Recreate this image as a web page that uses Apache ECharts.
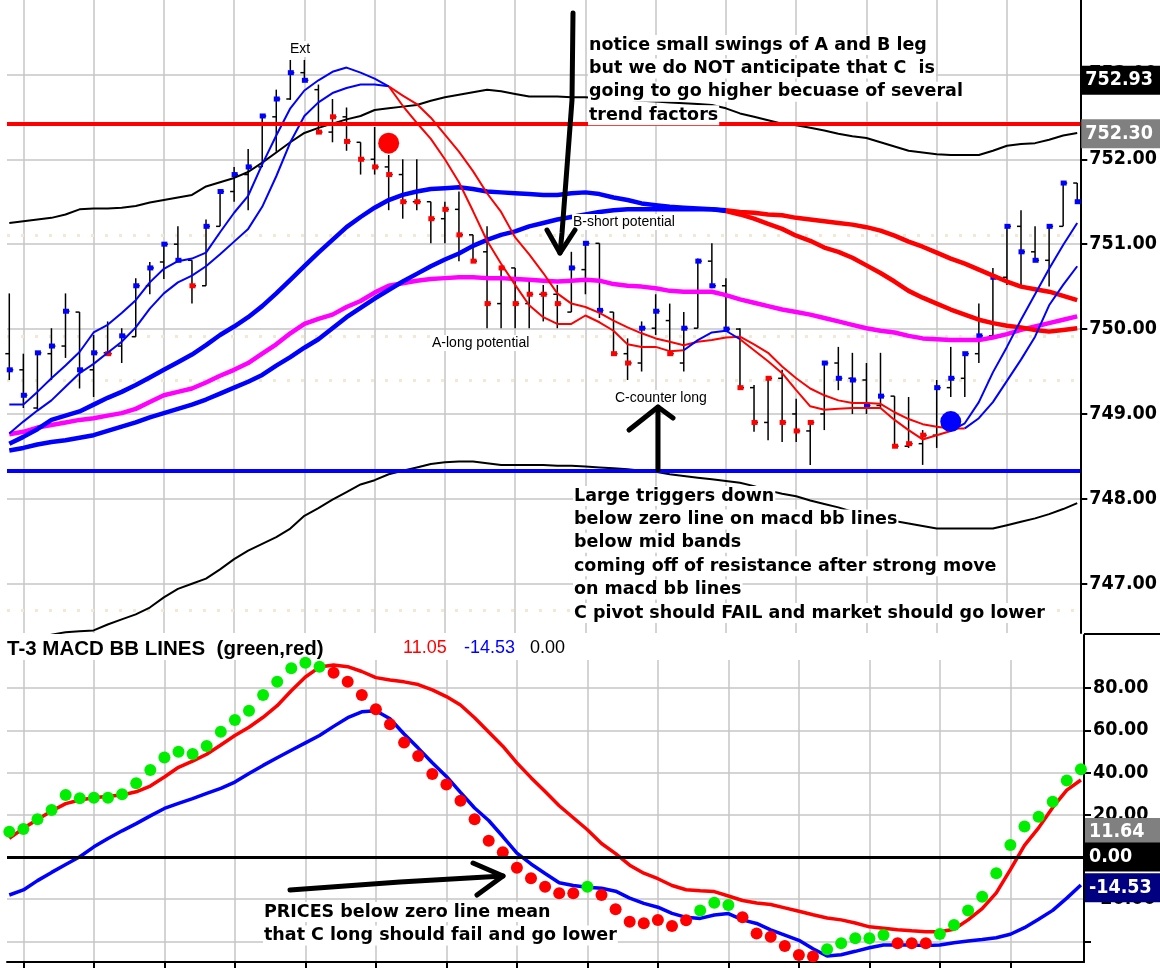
<!DOCTYPE html>
<html>
<head>
<meta charset="utf-8">
<title>T-3 MACD BB LINES</title>
<script src="https://cdn.jsdelivr.net/npm/echarts@6.0.0/dist/echarts.min.js"></script>
<style>
  html, body { margin: 0; padding: 0; background: #fff; }
  #chart { width: 1160px; height: 968px; }
</style>
</head>
<body>
<div id="chart"></div>
<script>
// ---- price bars (one per period, index = position on the x axis) ----
const barOpen = [749.71,749.52,749.07,749.71,749.80,750.20,749.52,749.72,749.80,749.91,
  750.51,750.79,751.00,750.81,750.51,751.21,751.62,751.82,751.91,752.50,
  752.71,753.02,752.82,752.32,752.50,752.20,752.00,751.91,751.82,751.50,
  751.50,751.30,751.41,751.11,750.91,750.30,750.72,750.30,750.41,750.41,
  750.20,750.70,751.01,750.20,749.71,749.60,750.01,750.10,749.60,750.01,
  750.80,750.51,750.00,749.31,748.90,749.42,749.00,748.80,749.00,749.60,
  749.42,749.40,749.10,749.21,748.62,748.65,748.75,749.31,749.42,749.71,
  749.92,750.61,751.21,750.91,750.81,751.21,751.72]
const barHigh = [750.42,749.71,749.73,750.01,750.42,750.20,749.93,750.09,750.01,750.60,
  750.79,751.01,751.21,750.81,751.29,751.62,751.91,752.12,752.51,752.82,
  753.17,753.17,752.88,752.71,752.61,752.20,752.38,752.05,752.00,752.00,
  751.50,751.50,751.62,751.11,751.21,750.75,750.72,750.56,750.52,750.52,
  750.91,751.01,751.01,750.20,749.89,750.09,750.41,750.30,750.20,750.83,
  751.01,750.60,750.01,749.34,749.42,749.52,749.18,748.91,749.62,749.79,
  749.72,749.60,749.72,749.21,749.20,748.81,749.40,749.79,749.72,750.30,
  750.72,751.23,751.40,751.21,751.21,751.72,751.72]
const barLow = [749.40,749.07,749.05,749.40,749.66,749.30,749.20,749.71,749.60,749.91,
  750.41,750.59,750.79,750.30,750.51,751.21,751.50,751.40,751.91,752.09,
  752.70,752.91,752.30,752.20,752.10,751.82,751.82,751.40,751.30,751.40,
  751.01,751.01,750.80,750.79,750.01,750.01,750.01,750.01,750.09,750.01,
  750.20,750.41,750.13,749.71,749.40,749.50,749.93,749.71,749.50,750.01,
  750.48,749.97,749.30,748.79,748.69,748.67,748.67,748.40,748.81,749.28,
  749.00,749.00,749.07,748.60,748.60,748.40,748.60,749.20,749.20,749.60,
  749.92,750.52,750.50,750.79,750.50,751.21,751.50]
const barClose = [749.52,749.22,749.72,749.80,750.21,749.52,749.72,749.71,749.92,750.51,
  750.72,751.00,750.81,750.51,751.21,751.62,751.82,751.91,752.51,752.71,
  753.02,752.93,752.32,752.50,752.21,752.00,751.91,751.82,751.50,751.50,
  751.30,751.41,751.11,750.80,750.30,750.72,750.30,750.41,750.41,750.30,
  750.72,751.01,750.22,749.71,749.60,750.01,750.21,749.71,750.01,750.80,
  750.51,750.00,749.31,748.90,749.42,748.90,748.80,748.90,749.60,749.42,
  749.40,749.10,749.21,748.62,748.65,748.75,749.31,749.42,749.71,749.92,
  750.61,751.21,750.91,750.81,751.21,751.72,751.50]
// 1 = blue close marker, 0 = red
const barTrend = [1,1,1,1,1,1,1,0,1,1, 1,1,1,0,1,1,1,1,1,1,
  1,1,0,0,0,0,0,0,0,0, 0,0,0,0,0,0,0,0,0,0,
  1,1,1,0,0,1,1,0,1,1, 1,1,0,0,0,0,0,0,1,1,
  1,1,1,0,0,0,1,1,1,1, 1,1,1,1,1,1,1]

// ---- price overlays ----
const bbUpper = [751.25,751.27,751.29,751.31,751.35,751.41,751.42,751.42,751.43,751.45,
  751.49,751.52,751.55,751.58,751.68,751.73,751.78,751.85,751.96,752.08,
  752.20,752.31,752.37,752.42,752.47,752.51,752.58,752.60,752.62,752.64,
  752.69,752.73,752.76,752.79,752.82,752.80,752.77,752.74,752.74,752.74,
  752.73,752.73,752.72,752.71,752.70,752.69,752.68,752.67,752.66,752.65,
  752.64,752.60,752.54,752.50,752.46,752.42,752.40,752.37,752.34,752.30,
  752.27,752.25,752.20,752.15,752.10,752.08,752.06,752.05,752.05,752.05,
  752.10,752.16,752.18,752.19,752.23,752.28,752.31]
const bbLower = [746.10,746.20,746.30,746.40,746.43,746.44,746.45,746.52,746.58,746.64,
  746.72,746.84,746.94,747.00,747.06,747.17,747.29,747.39,747.47,747.55,
  747.65,747.80,747.89,747.99,748.08,748.17,748.22,748.29,748.33,748.37,
  748.41,748.43,748.44,748.44,748.42,748.40,748.40,748.40,748.40,748.39,
  748.39,748.38,748.37,748.36,748.35,748.33,748.32,748.29,748.27,748.25,
  748.23,748.21,748.19,748.15,748.10,748.06,748.03,747.98,747.94,747.90,
  747.85,747.80,747.76,747.74,747.71,747.68,747.65,747.65,747.65,747.65,
  747.65,747.69,747.73,747.77,747.82,747.88,747.95]
const bbMid = [748.76,748.79,748.84,748.87,748.90,748.93,748.95,748.98,749.01,749.06,
  749.14,749.22,749.26,749.30,749.37,749.45,749.52,749.60,749.71,749.82,
  749.95,750.06,750.12,750.17,750.26,750.33,750.43,750.51,750.54,750.57,
  750.59,750.60,750.61,750.61,750.60,750.60,750.59,750.58,750.57,750.56,
  750.57,750.58,750.57,750.53,750.51,750.50,750.48,750.45,750.44,750.44,
  750.44,750.40,750.35,750.31,750.27,750.23,750.20,750.17,750.13,750.09,
  750.05,750.01,749.98,749.96,749.92,749.89,749.88,749.87,749.87,749.87,
  749.90,749.94,749.99,750.03,750.07,750.11,750.15]
const slowA = [748.65,748.73,748.82,748.93,748.98,749.03,749.11,749.19,749.26,749.34,
  749.43,749.52,749.61,749.70,749.81,749.93,750.03,750.14,750.27,750.42,
  750.58,750.74,750.90,751.05,751.20,751.32,751.43,751.52,751.58,751.62,
  751.65,751.66,751.67,751.65,751.62,751.61,751.60,751.59,751.58,751.58,
  751.60,751.61,751.59,751.55,751.52,751.48,751.46,751.44,751.43,751.42,
  751.41,751.40,751.38,751.37,751.35,751.34,751.31,751.29,751.27,751.25,
  751.23,751.20,751.16,751.10,751.03,750.97,750.90,750.83,750.77,750.70,
  750.63,750.56,750.50,750.47,750.44,750.39,750.34]
const slowB = [748.57,748.60,748.64,748.67,748.69,748.72,748.75,748.80,748.85,748.90,
  748.96,749.01,749.06,749.11,749.17,749.24,749.31,749.38,749.46,749.57,
  749.67,749.78,749.88,750.01,750.14,750.25,750.36,750.46,750.56,750.65,
  750.74,750.82,750.89,750.98,751.05,751.11,751.15,751.21,751.25,751.29,
  751.32,751.35,751.38,751.40,751.41,751.41,751.41,751.41,751.41,751.41,
  751.41,751.39,751.35,751.30,751.24,751.18,751.10,751.04,750.96,750.91,
  750.84,750.75,750.66,750.56,750.45,750.37,750.30,750.23,750.17,750.11,
  750.07,750.04,750.02,749.99,749.97,749.99,750.01]
const fastA = [749.11,749.11,749.26,749.42,749.57,749.73,749.96,750.05,750.19,750.34,
  750.55,750.71,750.80,750.83,750.90,751.14,751.37,751.57,751.94,752.28,
  752.60,752.81,752.93,753.03,753.08,753.02,752.95,752.86,752.63,752.43,
  752.24,752.00,751.73,751.39,751.04,750.77,750.52,750.28,750.14,750.06,
  750.06,750.16,750.08,749.98,749.82,749.79,749.79,749.74,749.75,749.87,
  749.96,749.98,749.88,749.75,749.62,749.48,749.28,749.09,749.05,749.06,
  749.07,749.07,749.07,748.93,748.81,748.70,748.75,748.80,748.89,749.14,
  749.49,749.79,750.11,750.41,750.71,750.99,751.25]
const fastB = [748.77,748.91,749.04,749.16,749.32,749.48,749.59,749.72,749.85,750.02,
  750.24,750.42,750.55,750.63,750.74,750.88,751.03,751.18,751.44,751.80,
  752.20,752.51,752.67,752.78,752.84,752.88,752.88,752.86,752.75,752.65,
  752.49,752.29,752.09,751.86,751.60,751.38,751.08,750.88,750.66,750.42,
  750.30,750.26,750.19,750.10,750.02,749.95,749.89,749.85,749.81,749.85,
  749.87,749.90,749.91,749.82,749.72,749.56,749.42,749.30,749.22,749.16,
  749.13,749.13,749.12,749.02,748.94,748.88,748.85,748.83,748.83,748.95,
  749.14,749.39,749.64,749.91,750.28,750.52,750.74]
// index ranges where each trend line is drawn blue (red elsewhere)
const slowABlue = [[0, 51]]
const slowBBlue = [[0, 51]]
const fastABlue = [[0, 27], [48, 52], [67, 76]]
const fastBBlue = [[0, 27], [68, 76]]

const resistance = 752.42
const support = 748.33
const sellSignal = [[27, 752.19]]
const buySignal = [[67, 748.91]]
const priceTicks = [747, 748, 749, 750, 751, 752, 753]
const faintLevels = [751.11, 749.92, 749.40, 746.69]
const priceMarks = [{ v: 752.93, bg: '#000000' }, { v: 752.30, bg: '#808080' }]

// ---- T-3 MACD BB lines ----
const macdDots = [12.0,13.3,17.9,22.3,29.4,27.8,28.1,28.1,29.7,34.9,
  41.2,47.1,49.9,48.8,52.6,59.4,64.9,69.3,76.8,83.1,
  89.4,92.1,90.2,87.3,83.1,76.8,70.0,62.9,54.2,47.9,
  39.3,34.4,26.7,17.9,7.7,2.2,-5.1,-10.1,-14.1,-17.2,
  -17.2,-14.1,-18.0,-24.8,-30.7,-31.4,-29.9,-32.7,-30.0,-25.4,
  -21.7,-22.7,-28.6,-36.2,-37.8,-42.2,-46.4,-47.2,-43.7,-40.9,
  -38.5,-38.5,-37.0,-40.9,-40.9,-40.9,-36.5,-32.2,-25.4,-18.8,
  -7.7,5.7,14.4,19.1,26.2,36.2,41.6]
// 1 = green dot, 0 = red dot
const dotState = [1,1,1,1,1,1,1,1,1,1, 1,1,1,1,1,1,1,1,1,1,
  1,1,1,0,0,0,0,0,0,0, 0,0,0,0,0,0,0,0,0,0,
  0,1,0,0,0,0,0,0,0,1, 1,1,0,0,0,0,0,0,1,1,
  1,1,1,0,0,0,1,1,1,1, 1,1,1,1,1,1,1]
const macdRed = [8.8,13.6,17.8,21.8,25.3,27.0,28.1,28.8,29.4,30.9,
  33.6,37.9,42.5,45.4,48.7,53.1,57.6,61.5,66.2,71.7,
  78.8,85.3,90.0,91.0,90.2,87.9,85.0,83.9,83.0,81.7,
  79.2,76.0,72.0,66.0,59.2,52.5,44.6,37.6,31.0,24.3,
  18.6,12.9,6.4,1.6,-3.9,-7.7,-10.3,-13.5,-15.5,-16.0,
  -16.4,-18.5,-20.6,-21.8,-22.5,-24.1,-25.7,-27.4,-28.9,-29.8,
  -31.3,-33.1,-33.8,-34.5,-35.0,-35.4,-35.4,-34.2,-29.8,-24.5,
  -17.0,-6.0,5.5,13.8,23.5,31.7,36.5]
const macdBlue = [-18.0,-15.6,-11.2,-7.3,-3.6,0.1,4.8,8.8,12.4,15.8,
  19.5,23.0,25.4,27.7,30.1,32.5,35.5,39.6,43.4,47.0,
  50.6,54.1,57.6,61.9,66.0,68.8,69.3,65.5,58.3,51.6,
  44.7,38.2,30.6,23.2,17.3,9.7,1.8,-3.3,-7.8,-12.2,
  -13.5,-14.3,-14.8,-16.2,-19.5,-22.0,-23.8,-26.7,-28.6,-29.1,
  -27.5,-26.8,-29.8,-31.5,-34.5,-37.0,-39.5,-43.5,-46.9,-46.3,
  -44.7,-43.0,-41.7,-41.7,-41.7,-42.0,-41.7,-40.6,-39.8,-39.1,
  -38.3,-36.6,-33.5,-29.5,-25.3,-19.5,-13.3]
const macdTicks = [-40, -20, 0, 20, 40, 60, 80]
const macdLabels = [-20, 0, 20, 40, 60, 80]
const macdGrid = [-40, -20, 20, 40, 60, 80]
const macdMarks = [{ v: 11.64, bg: '#808080' }, { v: 0, bg: '#000000' }, { v: -14.53, bg: '#000080' }]
const headerValues = ['11.05', '-14.53', '0.00']

const timeGrid = [1, 6, 11, 16, 21, 26, 31, 36, 41, 46, 51, 56, 61, 66, 71]

const X_MIN = -0.163, X_MAX = 76.22
const P_MIN = 746.42, P_MAX = 753.876
const M_MIN = -49.76, M_MAX = 105.2, M_TOP = 93.36

const BLUE = '#0000ff', RED = '#ff0000', GREEN = '#00ee00', MAGENTA = '#ff00ff'
const GRID_C = '#c6c6c6'
const axisFont = '"DejaVu Sans Condensed", "DejaVu Sans", sans-serif'
const AXIS_SIZE = 19.5

const splitRuns = (values, blueRuns) => {
  const inBlue = i => blueRuns.some(([a, b]) => i >= a && i <= b)
  const inside = i => blueRuns.some(([a, b]) => i > a && i < b)
  return {
    blue: values.map((v, i) => [i, inBlue(i) ? v : null]),
    red: values.map((v, i) => [i, inside(i) ? null : v])
  }
}

const lineSeries = (data, color, width, grid, z) => ({
  type: 'line',
  xAxisIndex: grid,
  yAxisIndex: grid,
  data,
  showSymbol: false,
  symbol: 'none',
  connectNulls: false,
  silent: true,
  z: z || 3,
  lineStyle: { color, width },
  itemStyle: { color }
})

const twoTone = (values, runs, width, z) => {
  const s = splitRuns(values, runs)
  return [lineSeries(s.red, RED, width, 0, z), lineSeries(s.blue, BLUE, width, 0, z)]
}

const idx = arr => arr.map((v, i) => [i, v])

const boxLabel = (bg) => ({
  show: true,
  position: 'end',
  distance: 1,
  formatter: p => Number(p.value).toFixed(2),
  color: '#fff',
  backgroundColor: bg,
  fontFamily: axisFont,
  fontSize: AXIS_SIZE,
  fontWeight: 'bold',
  padding: [5, 3, 4, 4],
  width: 72,
  align: 'left'
})

const renderBar = (params, api) => {
  const i = api.value(0)
  const o = api.coord([i, api.value(1)])
  const h = api.coord([i, api.value(2)])
  const l = api.coord([i, api.value(3)])
  const c = api.coord([i, api.value(4)])
  const col = api.value(5) === 1 ? BLUE : RED
  const st = { stroke: '#000', lineWidth: 1.5 }
  return {
    type: 'group',
    children: [
      { type: 'line', shape: { x1: h[0], y1: h[1], x2: l[0], y2: l[1] }, style: st },
      { type: 'line', shape: { x1: o[0] - 4, y1: o[1], x2: o[0], y2: o[1] }, style: st },
      { type: 'line', shape: { x1: c[0], y1: c[1], x2: c[0] + 4, y2: c[1] }, style: st },
      { type: 'rect', shape: { x: c[0] - 2.5, y: c[1] - 2.5, width: 6, height: 5 }, style: { fill: col } }
    ]
  }
}

const chart = echarts.init(document.getElementById('chart'))

const option = {
  animation: false,
  backgroundColor: '#ffffff',
  grid: [
    { left: 7, right: 76, top: 0, height: 633 },
    { left: 7, right: 76, top: 635, height: 327 }
  ],
  xAxis: [
    { gridIndex: 0, type: 'value', min: X_MIN, max: X_MAX, show: false },
    {
      gridIndex: 1, type: 'value', min: X_MIN, max: X_MAX,
      axisLine: { onZero: false, lineStyle: { color: '#000', width: 2 } },
      axisTick: { customValues: timeGrid, length: 6, lineStyle: { color: '#000', width: 2 } },
      axisLabel: { show: false },
      splitLine: { show: false }
    }
  ],
  yAxis: [
    {
      gridIndex: 0, type: 'value', position: 'right', min: P_MIN, max: P_MAX,
      axisLine: { show: true, onZero: false, lineStyle: { color: '#000', width: 2 } },
      axisTick: { show: true, customValues: priceTicks, length: 7, lineStyle: { color: '#000', width: 2 } },
      axisLabel: {
        customValues: priceTicks, formatter: v => v.toFixed(2), margin: 9,
        color: '#000', fontFamily: axisFont, fontSize: AXIS_SIZE, fontWeight: 'bold'
      },
      splitLine: { show: false }
    },
    {
      gridIndex: 1, type: 'value', position: 'right', min: M_MIN, max: M_MAX,
      axisLine: { show: true, onZero: false, lineStyle: { color: '#000', width: 2 } },
      axisTick: { show: true, customValues: macdTicks, length: 7, lineStyle: { color: '#000', width: 2 } },
      axisLabel: {
        customValues: macdLabels, formatter: v => v.toFixed(2), margin: 9,
        color: '#000', fontFamily: axisFont, fontSize: AXIS_SIZE, fontWeight: 'bold'
      },
      splitLine: { show: false }
    }
  ],
  series: [
    // price pane grid lines
    {
      type: 'line', xAxisIndex: 0, yAxisIndex: 0, data: [], silent: true, z: 0,
      markLine: {
        z: 0, silent: true, symbol: 'none', label: { show: false },
        data: [
          ...priceTicks.map(v => ({ yAxis: v, lineStyle: { color: GRID_C, width: 1.5, type: 'solid' } })),
          ...timeGrid.map(v => ({ xAxis: v, lineStyle: { color: GRID_C, width: 1.5, type: 'solid' } })),
          ...faintLevels.map(v => ({ yAxis: v, lineStyle: { color: '#f1e9d4', width: 3, type: [3, 11] } }))
        ]
      }
    },
    // MACD pane grid lines
    {
      type: 'line', xAxisIndex: 1, yAxisIndex: 1, data: [], silent: true, z: 0,
      markLine: {
        z: 0, silent: true, symbol: 'none', label: { show: false },
        data: [
          ...macdGrid.map(v => ({ yAxis: v, lineStyle: { color: GRID_C, width: 1.5, type: 'solid' } })),
          ...timeGrid.map(v => [
            { coord: [v, M_TOP], lineStyle: { color: GRID_C, width: 1.5, type: 'solid' } },
            { coord: [v, M_MIN] }
          ])
        ]
      }
    },
    {
      type: 'custom', xAxisIndex: 0, yAxisIndex: 0, silent: true, z: 2,
      renderItem: renderBar,
      encode: { x: 0, y: [1, 2, 3, 4] },
      data: barClose.map((c, i) => [i, barOpen[i], barHigh[i], barLow[i], c, barTrend[i]])
    },
    lineSeries(idx(bbUpper), '#000', 2, 0, 3),
    lineSeries(idx(bbLower), '#000', 2, 0, 3),
    lineSeries(idx(bbMid), MAGENTA, 4.5, 0, 3),
    ...twoTone(slowA, slowABlue, 4.5, 3),
    ...twoTone(slowB, slowBBlue, 4.5, 3),
    ...twoTone(fastB, fastBBlue, 2, 4),
    ...twoTone(fastA, fastABlue, 2, 4),
    {
      type: 'scatter', xAxisIndex: 0, yAxisIndex: 0, silent: true, z: 6,
      data: sellSignal, symbol: 'circle', symbolSize: 21, itemStyle: { color: RED, opacity: 1 }
    },
    {
      type: 'scatter', xAxisIndex: 0, yAxisIndex: 0, silent: true, z: 6,
      data: buySignal, symbol: 'circle', symbolSize: 21, itemStyle: { color: BLUE, opacity: 1 }
    },
    // resistance / support
    {
      type: 'line', xAxisIndex: 0, yAxisIndex: 0, data: [], silent: true, z: 5,
      markLine: {
        silent: true, symbol: 'none',
        data: [
          { yAxis: resistance, lineStyle: { color: RED, width: 4, type: 'solid' }, label: { show: false } },
          { yAxis: support, lineStyle: { color: BLUE, width: 4, type: 'solid' }, label: { show: false } }
        ]
      }
    },
    // right-edge value boxes, price pane
    {
      type: 'line', xAxisIndex: 0, yAxisIndex: 0, data: [], silent: true, z: 7,
      markLine: {
        silent: true, symbol: 'none',
        data: priceMarks.map(m => ({
          yAxis: m.v, lineStyle: { color: 'rgba(0,0,0,0)', width: 0 }, label: boxLabel(m.bg)
        }))
      }
    },
    // MACD pane
    {
      type: 'line', xAxisIndex: 1, yAxisIndex: 1, data: [], silent: true, z: 3,
      markLine: {
        silent: true, symbol: 'none',
        data: [
          { yAxis: 0, lineStyle: { color: '#000', width: 3, type: 'solid' }, label: { show: false } }
        ]
      }
    },
    {
      type: 'line', xAxisIndex: 1, yAxisIndex: 1, data: [], silent: true, z: 7,
      markLine: {
        silent: true, symbol: 'none',
        data: macdMarks.map(m => ({
          yAxis: m.v, lineStyle: { color: 'rgba(0,0,0,0)', width: 0 }, label: boxLabel(m.bg)
        }))
      }
    },
    lineSeries(idx(macdBlue), BLUE, 3.5, 1, 3),
    lineSeries(idx(macdRed), RED, 3.5, 1, 3),
    {
      type: 'scatter', xAxisIndex: 1, yAxisIndex: 1, silent: true, z: 4,
      symbol: 'circle', symbolSize: 12,
      data: macdDots.map((v, i) => [i, v, dotState[i]]),
      itemStyle: { opacity: 1, color: p => (p.data[2] === 1 ? GREEN : RED) }
    }
  ]
}

// hand-drawn notes on the chart
const note = (x, y, text, bold) => ({
  type: 'text', x, y, z: 100, silent: true,
  style: {
    text,
    fill: '#000',
    fontFamily: bold ? '"DejaVu Sans", sans-serif' : '"Liberation Sans", Arial, sans-serif',
    fontSize: bold ? 17.5 : 14,
    fontWeight: bold ? 'bold' : 'normal',
    verticalAlign: 'middle',
    backgroundColor: '#fff',
    padding: [1, 1, 1, 1]
  }
})
const block = (x, y0, lines) => lines.map((t, k) => note(x, y0 + k * 23.4, t, true))
const stroke = (points, w) => ({
  type: 'polyline', z: 101, silent: true,
  shape: { points },
  style: { stroke: '#000', lineWidth: w || 5, fill: null, lineCap: 'round', lineJoin: 'round' }
})

option.graphic = [
  ...block(588, 45, [
    'notice small swings of A and B leg',
    'but we do NOT anticipate that C  is',
    'going to go higher becuase of several',
    'trend factors'
  ]),
  ...block(573, 496, [
    'Large triggers down',
    'below zero line on macd bb lines',
    'below mid bands',
    'coming off of resistance after strong move',
    'on macd bb lines',
    'C pivot should FAIL and market should go lower'
  ]),
  ...block(263, 912, ['PRICES below zero line mean', 'that C long should fail and go lower']),
  note(289, 49, 'Ext', false),
  note(572, 222, 'B-short potential', false),
  note(431, 343, 'A-long potential', false),
  note(614, 398, 'C-counter long', false),
  stroke([[573, 13], [572, 100], [567, 167], [562, 233], [560, 253]]),
  stroke([[547, 230], [560, 253], [575, 230]]),
  stroke([[658, 470], [658, 407]]),
  stroke([[629, 430], [658, 407], [673, 418]]),
  stroke([[290, 890], [400, 882], [503, 876]]),
  stroke([[473, 863], [503, 876], [477, 895]]),
  // pane separator right of the value axis
  { type: 'line', z: 50, silent: true, shape: { x1: 1084, y1: 634, x2: 1160, y2: 634 }, style: { stroke: '#000', lineWidth: 2 } },
  {
    type: 'text', x: 7, y: 649, z: 100, silent: true,
    style: {
      text: 'T-3 MACD BB LINES  (green,red)', fill: '#000',
      fontFamily: '"Liberation Sans", Arial, sans-serif', fontSize: 20.5, fontWeight: 'bold',
      verticalAlign: 'middle'
    }
  },
  ...headerValues.map((t, k) => ({
    type: 'text', x: [403, 464, 530][k], y: 648, z: 100, silent: true,
    style: {
      text: t, fill: [RED, BLUE, '#000'][k],
      fontFamily: '"Liberation Sans", Arial, sans-serif', fontSize: 18,
      verticalAlign: 'middle'
    }
  }))
]

chart.setOption(option)
window.addEventListener('resize', () => chart.resize())
</script>
</body>
</html>
